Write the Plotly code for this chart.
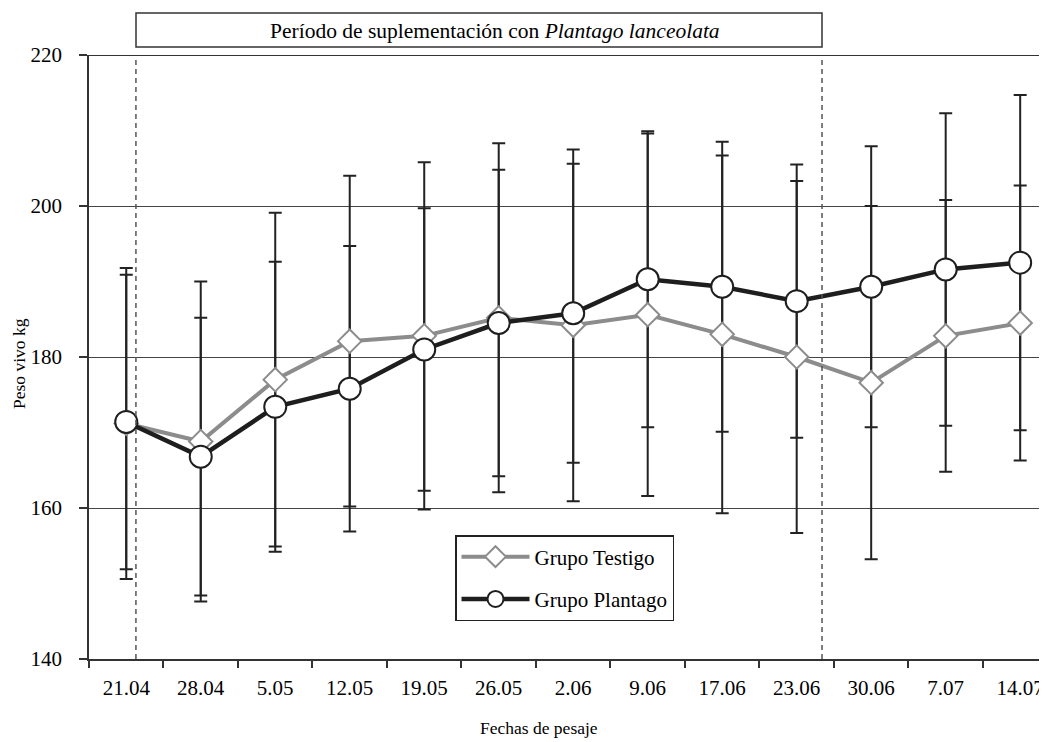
import plotly.graph_objects as go

fechas = ["21.04", "28.04", "5.05", "12.05", "19.05", "26.05", "2.06",
          "9.06", "17.06", "23.06", "30.06", "7.07", "14.07"]
testigo_media = [171.2, 168.8, 177.0, 182.1, 182.8, 185.2, 184.2,
                 185.6, 183.0, 180.0, 176.6, 182.8, 184.5]
testigo_de = [20.6, 21.2, 22.1, 21.9, 23.0, 23.1, 23.3,
              24.0, 23.7, 23.3, 23.4, 18.0, 18.2]
plantago_media = [171.4, 166.8, 173.4, 175.8, 181.0, 184.5, 185.8,
                  190.3, 189.3, 187.4, 189.3, 191.6, 192.5]
plantago_de = [19.5, 18.4, 19.2, 18.9, 18.7, 20.3, 19.8,
               19.6, 19.2, 18.1, 18.6, 20.7, 22.2]
periodo_inicio = 0.13
periodo_fin = 9.34

FONT = "Liberation Serif"
OFF = 8  # browser body margin
W, H = 1047 - OFF, 742 - OFF
# plot area in screen pixels
SL, SR, ST, SB = 89, 1047, 55, 659
L, T = SL - OFF, ST - OFF
R = W - (SR - OFF)
B = H - (SB - OFF)
pw = SR - SL
ph = SB - ST


def px(xs):
    return (xs - SL) / pw


def py(ys):
    return (SB - ys) / ph


fig = go.Figure()

# error bars (drawn beneath lines and markers)
for media, de in [(testigo_media, testigo_de), (plantago_media, plantago_de)]:
    fig.add_trace(go.Scatter(
        x=fechas, y=media, mode="markers",
        marker=dict(size=1, color="rgba(0,0,0,0)"),
        error_y=dict(type="data", array=de, visible=True,
                     color="#222222", thickness=2, width=6.5),
        showlegend=False, hoverinfo="skip"))

fig.add_trace(go.Scatter(
    x=fechas, y=testigo_media, mode="lines+markers", name="Grupo Testigo",
    legendgroup="t",
    line=dict(color="#8c8c8c", width=4),
    marker=dict(symbol="diamond", size=18, color="white",
                line=dict(color="#8c8c8c", width=2))))
fig.add_trace(go.Scatter(
    x=fechas, y=plantago_media, mode="lines+markers", name="Grupo Plantago",
    legendgroup="p",
    line=dict(color="#1e1e1e", width=4.5),
    marker=dict(symbol="circle", size=22, color="white",
                line=dict(color="#1e1e1e", width=2))))

shapes = []
for xv in (periodo_inicio, periodo_fin):
    shapes.append(dict(type="line", xref="x", yref="y", x0=xv, x1=xv,
                       y0=140, y1=220,
                       line=dict(color="#555555", width=1.5, dash="5px,4px")))
# top frame line
shapes.append(dict(type="line", xref="paper", yref="y", x0=px(81), x1=1,
                   y0=220, y1=220, line=dict(color="#333333", width=2)))
# period box
shapes.append(dict(type="rect", xref="paper", yref="paper",
                   x0=px(136), x1=px(822), y0=py(47), y1=py(13),
                   line=dict(color="#333333", width=1.5), fillcolor="white"))

annotations = [
    dict(text="Período de suplementación con <i>Plantago lanceolata</i>",
         xref="paper", yref="paper", x=px(495), y=py(31),
         showarrow=False, font=dict(family=FONT, size=21.5, color="black"),
         xanchor="center", yanchor="middle"),
    dict(text="Peso vivo kg", xref="paper", yref="paper",
         x=px(19), y=py(364), textangle=-90,
         showarrow=False, font=dict(family=FONT, size=17.5, color="black"),
         xanchor="center", yanchor="middle"),
    dict(text="Fechas de pesaje", xref="paper", yref="paper",
         x=px(539), y=py(728),
         showarrow=False, font=dict(family=FONT, size=17.5, color="black"),
         xanchor="center", yanchor="middle"),
]

fig.update_layout(
    width=W, height=H,
    margin=dict(l=L, r=R, t=T, b=B, pad=0),
    paper_bgcolor="white", plot_bgcolor="white",
    font=dict(family=FONT, size=21, color="black"),
    shapes=shapes, annotations=annotations,
    legend=dict(x=px(455), y=py(535),
                xanchor="left", yanchor="top",
                bordercolor="#222222", borderwidth=1.5, bgcolor="white",
                font=dict(family=FONT, size=21, color="black"),
                tracegroupgap=12, itemwidth=68),
    showlegend=True,
)
fig.update_xaxes(type="category", range=[-0.5, 12.36], tickson="boundaries",
                 ticks="outside", ticklen=7, tickcolor="#333333", tickwidth=1.5,
                 showline=True, linecolor="#333333", linewidth=1.5,
                 showgrid=False, ticklabelstandoff=9,
                 tickfont=dict(family=FONT, size=21, color="black"))
fig.update_yaxes(range=[140, 220], dtick=20, tick0=140,
                 ticks="outside", ticklen=8, tickcolor="#333333", tickwidth=1.5,
                 showline=True, linecolor="#333333", linewidth=1.5,
                 showgrid=True, gridcolor="#444444", gridwidth=1,
                 zeroline=False, ticklabelstandoff=13,
                 tickfont=dict(family=FONT, size=21, color="black"))

fig.write_html("out.html")
